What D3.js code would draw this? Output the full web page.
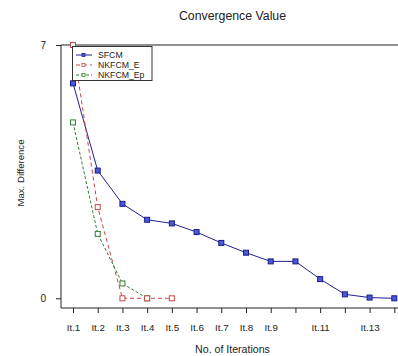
<!DOCTYPE html>
<html><head><meta charset="utf-8">
<script src="https://cdn.jsdelivr.net/npm/d3@7"></script>
<style>body{margin:0;background:#fff}svg{display:block}text{font-family:"Liberation Sans",Arial,sans-serif;fill:#222}</style>
</head><body>
<script>
const iterations = [1,2,3,4,5,6,7,8,9,10,11,12,13,14];
const tickLabels = ["It.1","It.2","It.3","It.4","It.5","It.6","It.7","It.8","It.9","","It.11","","It.13",""];
const sfcm = [5.94,3.53,2.61,2.17,2.07,1.83,1.53,1.26,1.02,1.02,0.53,0.11,0.02,0];
const nkfcmE = [7,2.52,0,0,0];
const nkfcmEp = [4.86,1.78,0.41,0];
const yTicks = [0,7];
const seriesNames = ["SFCM","NKFCM_E","NKFCM_Ep"];

(function(){
const W=398,H=356;
const svg=d3.select("body").append("svg").attr("width",W).attr("height",H);
const x=d3.scaleLinear().domain([1,14]).range([73,394.3]);
const y=d3.scaleLinear().domain([0,7]).range([298.3,45]);
const pl=61, pt=45, pb=308;

// frame
svg.append("path").attr("d",`M${W},${pt}H${pl}V${pb}H${W}`).attr("fill","none").attr("stroke","#222").attr("stroke-width",1);

// y axis
const ya=svg.append("g").attr("transform",`translate(${pl},0)`)
  .call(d3.axisLeft(y).tickValues(yTicks).tickSize(5).tickFormat(d3.format("d")));
ya.select(".domain").remove();
ya.selectAll("line").attr("stroke","#222");
ya.selectAll("text").attr("font-size",10).attr("x",-15).style("font-family","Liberation Sans, Arial, sans-serif").attr("fill","#333");

// x axis
const xa=svg.append("g").attr("transform",`translate(0,${pb})`)
  .call(d3.axisBottom(x).tickValues(iterations).tickSize(5).tickFormat((d,i)=>tickLabels[i]));
xa.select(".domain").remove();
xa.selectAll("line").attr("stroke","#222");
xa.selectAll("text").attr("font-size",9.8).attr("dy","1.5em").style("font-family","Liberation Sans, Arial, sans-serif").attr("fill","#333");

// titles
svg.append("text").attr("x",232.5).attr("y",20).attr("text-anchor","middle").attr("font-size",12.3).attr("fill","#333").text("Convergence Value");
svg.append("text").attr("x",232.5).attr("y",352.5).attr("text-anchor","middle").attr("font-size",10.6).attr("fill","#333").text("No. of Iterations");
svg.append("text").attr("transform","translate(23.5,173) rotate(-90)").attr("text-anchor","middle").attr("font-size",9.6).attr("fill","#333").text("Max. Difference");

const styles=[
 {data:sfcm,color:"#1f1f9a",dash:null,mfill:"#4a5ad6",mstroke:"#1a1a8c"},
 {data:nkfcmE,color:"#c84848",dash:"4,3",mfill:"#fff",mstroke:"#c84848"},
 {data:nkfcmEp,color:"#2f7f2f",dash:"3,2",mfill:"#fff",mstroke:"#2f7f2f"}
];
const line=d3.line().x((d,i)=>x(iterations[i])).y(d=>y(d));
styles.forEach(s=>{
  svg.append("path").datum(s.data).attr("d",line).attr("fill","none").attr("stroke",s.color).attr("stroke-width",1).attr("stroke-dasharray",s.dash);
});
styles.slice().reverse().forEach(s=>{
  svg.selectAll(null).data(s.data).enter().append("rect")
   .attr("x",(d,i)=>x(iterations[i])-2.5).attr("y",d=>y(d)-2.5).attr("width",5).attr("height",5)
   .attr("fill",s.mfill).attr("stroke",s.mstroke).attr("stroke-width",1);
});

// legend
const lg=svg.append("g");
lg.append("rect").attr("x",72.5).attr("y",46.5).attr("width",79.5).attr("height",34).attr("fill","#fff").attr("stroke","#333").attr("stroke-width",1);
seriesNames.forEach((n,i)=>{
  const s=styles[i], yy=55+i*10;
  lg.append("line").attr("x1",76).attr("x2",92).attr("y1",yy).attr("y2",yy).attr("stroke",s.color).attr("stroke-dasharray",s.dash);
  lg.append("rect").attr("x",82).attr("y",yy-1.5).attr("width",3).attr("height",3).attr("fill",s.mfill).attr("stroke",s.mstroke).attr("stroke-width",0.8);
  lg.append("text").attr("x",98).attr("y",yy+3.1).attr("font-size",8.7).attr("fill","#333").text(n);
});
})();
</script>
</body></html>
